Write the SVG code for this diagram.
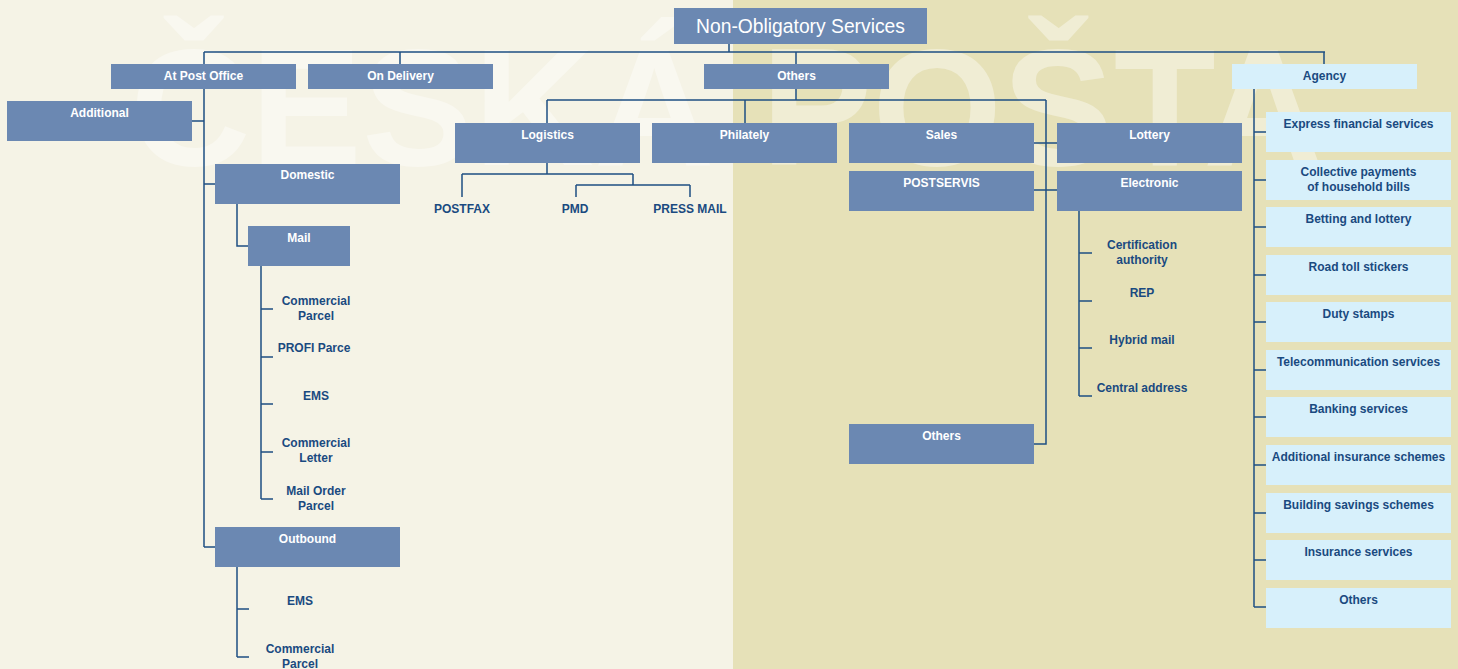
<svg xmlns="http://www.w3.org/2000/svg" width="1458" height="669" viewBox="0 0 1458 669">
<style>
.box{fill:#6b88b2}
.lbox{fill:#d7f0fb}
.wt{font-family:"Liberation Sans",Arial,sans-serif;font-size:12px;font-weight:bold;fill:#ffffff;text-anchor:middle}
.dt{font-family:"Liberation Sans",Arial,sans-serif;font-size:12px;font-weight:bold;fill:#1a4a80;text-anchor:middle}
.ln{fill:none;stroke:#1e4f82;stroke-width:1.5}
</style>
<rect x="0" y="0" width="733" height="669" fill="#f5f3e6"/>
<rect x="733" y="0" width="725" height="669" fill="#e6e1b8"/>
<text x="130" y="165" font-family="'Liberation Sans',Arial,sans-serif" font-weight="bold" font-size="167" fill="#ffffff" fill-opacity="0.4">ČESKÁ POŠTA</text>

<g id="connectors">
<path class="ln" d="M729 44V52M204 52H1325M204 52V64M400 52V64M796 52V64M1324 52V64"/>
<path class="ln" d="M204 88V547M192 121H204M204 184H215M204 547H215"/>
<path class="ln" d="M237 204V246H248M261 266V499M261 309H273M261 357H273M261 404H273M261 452H273M261 499H273"/>
<path class="ln" d="M237 567V657M237 609H249M237 657H249"/>
<path class="ln" d="M796 88V100M547 100H1046M547 100V123M745 100V123M1046 100V444H1034M1034 143H1057M1034 190H1057"/>
<path class="ln" d="M547 163V174M462 174H633M462 174V197M633 174V185M576 185H690M576 185V197M690 185V197"/>
<path class="ln" d="M1079 211V396M1079 253H1092M1079 301H1092M1079 348H1092M1079 396H1092"/>
<path class="ln" d="M1254 88V607M1254 132H1266M1254 180H1266M1254 227H1266M1254 275H1266M1254 322H1266M1254 370H1266M1254 417H1266M1254 465H1266M1254 513H1266M1254 560H1266M1254 607H1266"/>
</g>

<g id="root"><rect class="box" x="674" y="8" width="253" height="36"/><text x="800.5" y="33" font-family="'Liberation Sans',Arial,sans-serif" font-size="19.3" fill="#ffffff" text-anchor="middle">Non-Obligatory Services</text></g>

<g id="at-post-office"><rect class="box" x="111" y="64" width="185" height="25"/><text class="wt" x="203.5" y="80">At Post Office</text></g>
<g id="on-delivery"><rect class="box" x="308" y="64" width="185" height="25"/><text class="wt" x="400.5" y="80">On Delivery</text></g>
<g id="others-top"><rect class="box" x="704" y="64" width="185" height="25"/><text class="wt" x="796.5" y="80">Others</text></g>
<g id="agency"><rect class="lbox" x="1232" y="64" width="185" height="25"/><text class="dt" x="1324.5" y="80">Agency</text></g>

<g id="additional"><rect class="box" x="7" y="101" width="185" height="40"/><text class="wt" x="99.5" y="117">Additional</text></g>
<g id="domestic"><rect class="box" x="215" y="164" width="185" height="40"/><text class="wt" x="307.5" y="179">Domestic</text></g>
<g id="mail"><rect class="box" x="248" y="226" width="102" height="40"/><text class="wt" x="299" y="242">Mail</text></g>
<g id="outbound"><rect class="box" x="215" y="527" width="185" height="40"/><text class="wt" x="307.5" y="543">Outbound</text></g>

<g id="mail-items">
<text class="dt" x="316" y="305">Commercial</text><text class="dt" x="316" y="320">Parcel</text>
<text class="dt" x="314" y="352">PROFI Parce</text>
<text class="dt" x="316" y="400">EMS</text>
<text class="dt" x="316" y="447">Commercial</text><text class="dt" x="316" y="462">Letter</text>
<text class="dt" x="316" y="495">Mail Order</text><text class="dt" x="316" y="510">Parcel</text>
</g>
<g id="outbound-items">
<text class="dt" x="300" y="605">EMS</text>
<text class="dt" x="300" y="653">Commercial</text><text class="dt" x="300" y="668">Parcel</text>
</g>

<g id="logistics"><rect class="box" x="455" y="123" width="185" height="40"/><text class="wt" x="547.5" y="139">Logistics</text></g>
<g id="philately"><rect class="box" x="652" y="123" width="185" height="40"/><text class="wt" x="744.5" y="139">Philately</text></g>
<g id="sales"><rect class="box" x="849" y="123" width="185" height="40"/><text class="wt" x="941.5" y="139">Sales</text></g>
<g id="lottery"><rect class="box" x="1057" y="123" width="185" height="40"/><text class="wt" x="1149.5" y="139">Lottery</text></g>
<g id="postservis"><rect class="box" x="849" y="171" width="185" height="40"/><text class="wt" x="941.5" y="187">POSTSERVIS</text></g>
<g id="electronic"><rect class="box" x="1057" y="171" width="185" height="40"/><text class="wt" x="1149.5" y="187">Electronic</text></g>
<g id="others-sub"><rect class="box" x="849" y="424" width="185" height="40"/><text class="wt" x="941.5" y="440">Others</text></g>

<g id="logistics-items">
<text class="dt" x="462" y="213">POSTFAX</text>
<text class="dt" x="575" y="213">PMD</text>
<text class="dt" x="690" y="213">PRESS MAIL</text>
</g>
<g id="electronic-items">
<text class="dt" x="1142" y="249">Certification</text><text class="dt" x="1142" y="264">authority</text>
<text class="dt" x="1142" y="297">REP</text>
<text class="dt" x="1142" y="344">Hybrid mail</text>
<text class="dt" x="1142" y="392">Central address</text>
</g>

<g id="agency-express"><rect class="lbox" x="1266" y="112" width="185" height="40"/><text class="dt" x="1358.5" y="128">Express financial services</text></g>
<g id="agency-collective"><rect class="lbox" x="1266" y="160" width="185" height="40"/><text class="dt" x="1358.5" y="176">Collective payments</text><text class="dt" x="1358.5" y="191">of household bills</text></g>
<g id="agency-betting"><rect class="lbox" x="1266" y="207" width="185" height="40"/><text class="dt" x="1358.5" y="223">Betting and lottery</text></g>
<g id="agency-road"><rect class="lbox" x="1266" y="255" width="185" height="40"/><text class="dt" x="1358.5" y="271">Road toll stickers</text></g>
<g id="agency-duty"><rect class="lbox" x="1266" y="302" width="185" height="40"/><text class="dt" x="1358.5" y="318">Duty stamps</text></g>
<g id="agency-telecom"><rect class="lbox" x="1266" y="350" width="185" height="40"/><text class="dt" x="1358.5" y="366">Telecommunication services</text></g>
<g id="agency-banking"><rect class="lbox" x="1266" y="397" width="185" height="40"/><text class="dt" x="1358.5" y="413">Banking services</text></g>
<g id="agency-addins"><rect class="lbox" x="1266" y="445" width="185" height="40"/><text class="dt" x="1358.5" y="461">Additional insurance schemes</text></g>
<g id="agency-building"><rect class="lbox" x="1266" y="493" width="185" height="40"/><text class="dt" x="1358.5" y="509">Building savings schemes</text></g>
<g id="agency-insurance"><rect class="lbox" x="1266" y="540" width="185" height="40"/><text class="dt" x="1358.5" y="556">Insurance services</text></g>
<g id="agency-others"><rect class="lbox" x="1266" y="588" width="185" height="40"/><text class="dt" x="1358.5" y="604">Others</text></g>
</svg>
